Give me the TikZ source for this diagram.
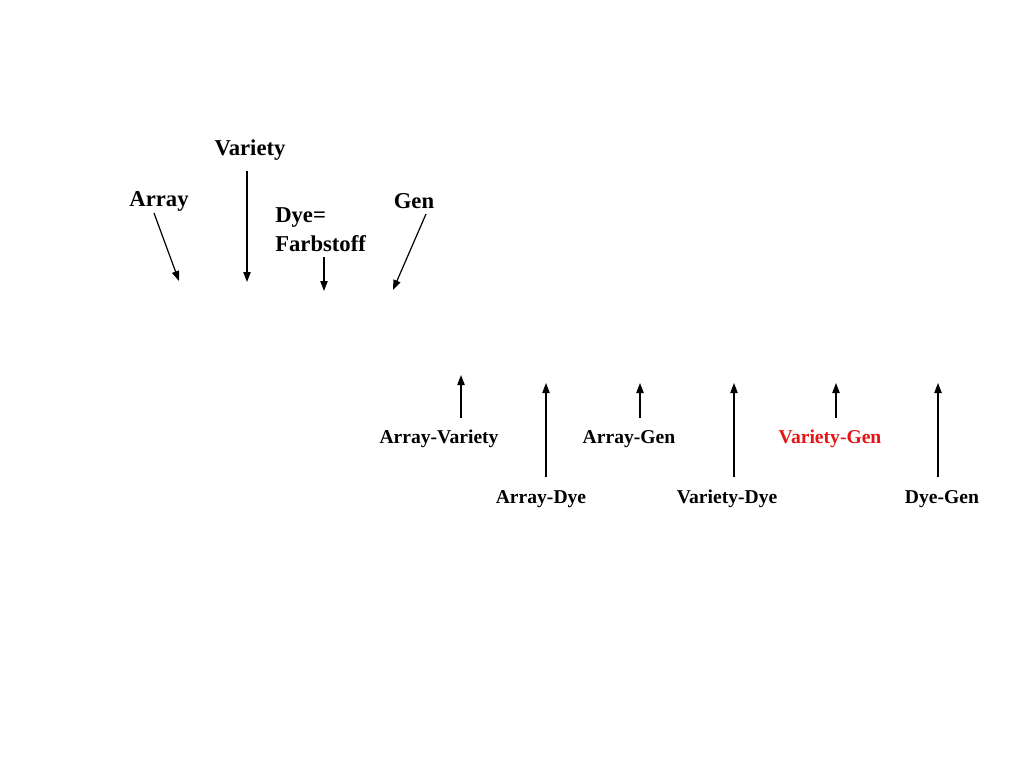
\documentclass[tikz,border=0pt]{standalone}
\usepackage{fontspec}
\setmainfont{Liberation Serif}
\usetikzlibrary{arrows.meta}
\begin{document}
\begin{tikzpicture}[x=0.75pt,y=-0.75pt,
  big/.style={font=\bfseries\fontsize{17}{20}\selectfont,inner sep=0pt},
  small/.style={font=\bfseries\fontsize{14.7}{17}\selectfont,inner sep=0pt},
  arr/.style={line width=0.9pt,-{Triangle[length=7.5pt,width=5.5pt]}}]
\useasboundingbox[fill=white] (0,0) rectangle (1024,768);
% top labels
\node[big] (variety) at (250,150) {Variety};
\node[big] (array) at (159,201) {Array};
\node[big] (gen) at (414,201) {Gen};
\node[big,anchor=west] (dye) at (275,218) {Dye=};
\node[big,anchor=west] (farb) at (275,244) {Farbstoff};
% top arrows
\coordinate (a1) at (154,213); \coordinate (a2) at (179,281);
\coordinate (v1) at (247,171); \coordinate (v2) at (247,282);
\coordinate (d1) at (324,257); \coordinate (d2) at (324,291);
\coordinate (g1) at (426,214); \coordinate (g2) at (393,290);
\draw[arr] (a1) -- (a2);
\draw[arr] (v1) -- (v2);
\draw[arr] (d1) -- (d2);
\draw[arr] (g1) -- (g2);
% bottom labels
\node[small] (av) at (439,439) {Array-Variety};
\node[small] (ag) at (629,439) {Array-Gen};
\node[small,text={rgb,255:red,230;green,20;blue,20}] (vg) at (830,439) {Variety-Gen};
\node[small] (ad) at (541,499) {Array-Dye};
\node[small] (vd) at (727,499) {Variety-Dye};
\node[small] (dg) at (942,499) {Dye-Gen};
% bottom arrows
\coordinate (av1) at (461,418); \coordinate (av2) at (461,375);
\coordinate (ad1) at (546,477); \coordinate (ad2) at (546,383);
\coordinate (ag1) at (640,418); \coordinate (ag2) at (640,383);
\coordinate (vd1) at (734,477); \coordinate (vd2) at (734,383);
\coordinate (vg1) at (836,418); \coordinate (vg2) at (836,383);
\coordinate (dg1) at (938,477); \coordinate (dg2) at (938,383);
\draw[arr] (av1) -- (av2);
\draw[arr] (ad1) -- (ad2);
\draw[arr] (ag1) -- (ag2);
\draw[arr] (vd1) -- (vd2);
\draw[arr] (vg1) -- (vg2);
\draw[arr] (dg1) -- (dg2);
\end{tikzpicture}
\end{document}
